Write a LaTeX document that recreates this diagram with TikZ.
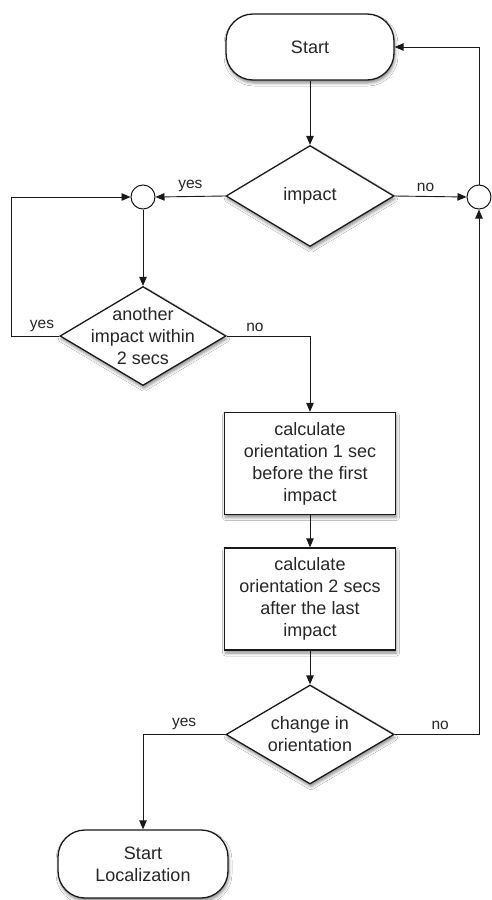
\documentclass[tikz,border=0pt]{standalone}
\usepackage{fontspec}
\setmainfont{Liberation Sans}
\usetikzlibrary{shapes.geometric,arrows.meta,shadows,shadows.blur}
\begin{document}
\begin{tikzpicture}[x=1pt,y=1pt,
  txt/.style={font=\fontsize{18}{22}\selectfont, align=center, text=black!85},
  shp/.style={draw=black!90, line width=1.3pt, fill=white,
    blur shadow={shadow xshift=1pt,shadow yshift=-3pt,shadow blur radius=3pt,shadow opacity=45},
    inner sep=0pt, txt},
  term/.style={shp, rectangle, rounded corners=27pt, minimum width=168pt, minimum height=66pt},
  proc/.style={shp, rectangle, minimum width=171pt, minimum height=102pt},
  dia/.style={shp, diamond, minimum width=168pt, minimum height=101pt},
  jn/.style={draw=black!90, circle, minimum size=24pt, inner sep=0pt, line width=1pt, fill=white},
  arr/.style={-{Triangle[length=9pt,width=7.5pt]}, line width=0.9pt, draw=black!90},
  lbl/.style={font=\fontsize{15.5}{18}\selectfont, text=black!85, inner sep=1pt, anchor=south, yshift=3pt}]
\useasboundingbox[fill=white] (0,0) rectangle (492,-900);

\node[term] (start) at (310,-47) {Start};
\node[dia, label={[txt]center:impact}] (d1) at (310,-196) {};
\node[jn] (c1) at (143,-197) {};
\node[jn] (c2) at (479,-197) {};
\node[dia, minimum width=166pt, minimum height=99pt,
  label={[txt]center:another\\impact within\\2 secs}] (d2) at (143,-336) {};
\coordinate (lp) at (11,-197);
\node[proc] (b1) at (310,-463.5) {calculate\\orientation 1 sec\\before the first\\impact};
\node[proc] (b2) at (310,-599) {calculate\\orientation 2 secs\\after the last\\impact};
\node[dia, minimum height=99pt, label={[txt]center:change in\\orientation}] (d3) at (310,-734.5) {};
\node[term, minimum width=170pt, minimum height=68pt] (sl) at (143,-864) {Start\\Localization};

\draw[arr] (start.south) -- (d1.north);
\draw[arr] (d1.west) -- node[lbl]{yes} (c1.east);
\draw[arr] (d1.east) -- node[lbl, xshift=-5pt]{no} (c2.west);
\draw[arr] (c2.north) |- (start.east);
\draw[arr] (c1.south) -- (d2.north);
\draw[arr] (d2.west) -| node[lbl, pos=0.18]{yes} (lp) -- (c1.west);
\draw[arr] (d2.east) -| node[lbl, pos=0.17]{no} (b1.north);
\draw[arr] (b1.south) -- (b2.north);
\draw[arr] (b2.south) -- (d3.north);
\draw[arr] (d3.west) -| node[lbl, pos=0.25]{yes} (sl.north);
\draw[arr] (d3.east) -| node[lbl, pos=0.27]{no} (c2.south);
\end{tikzpicture}
\end{document}
